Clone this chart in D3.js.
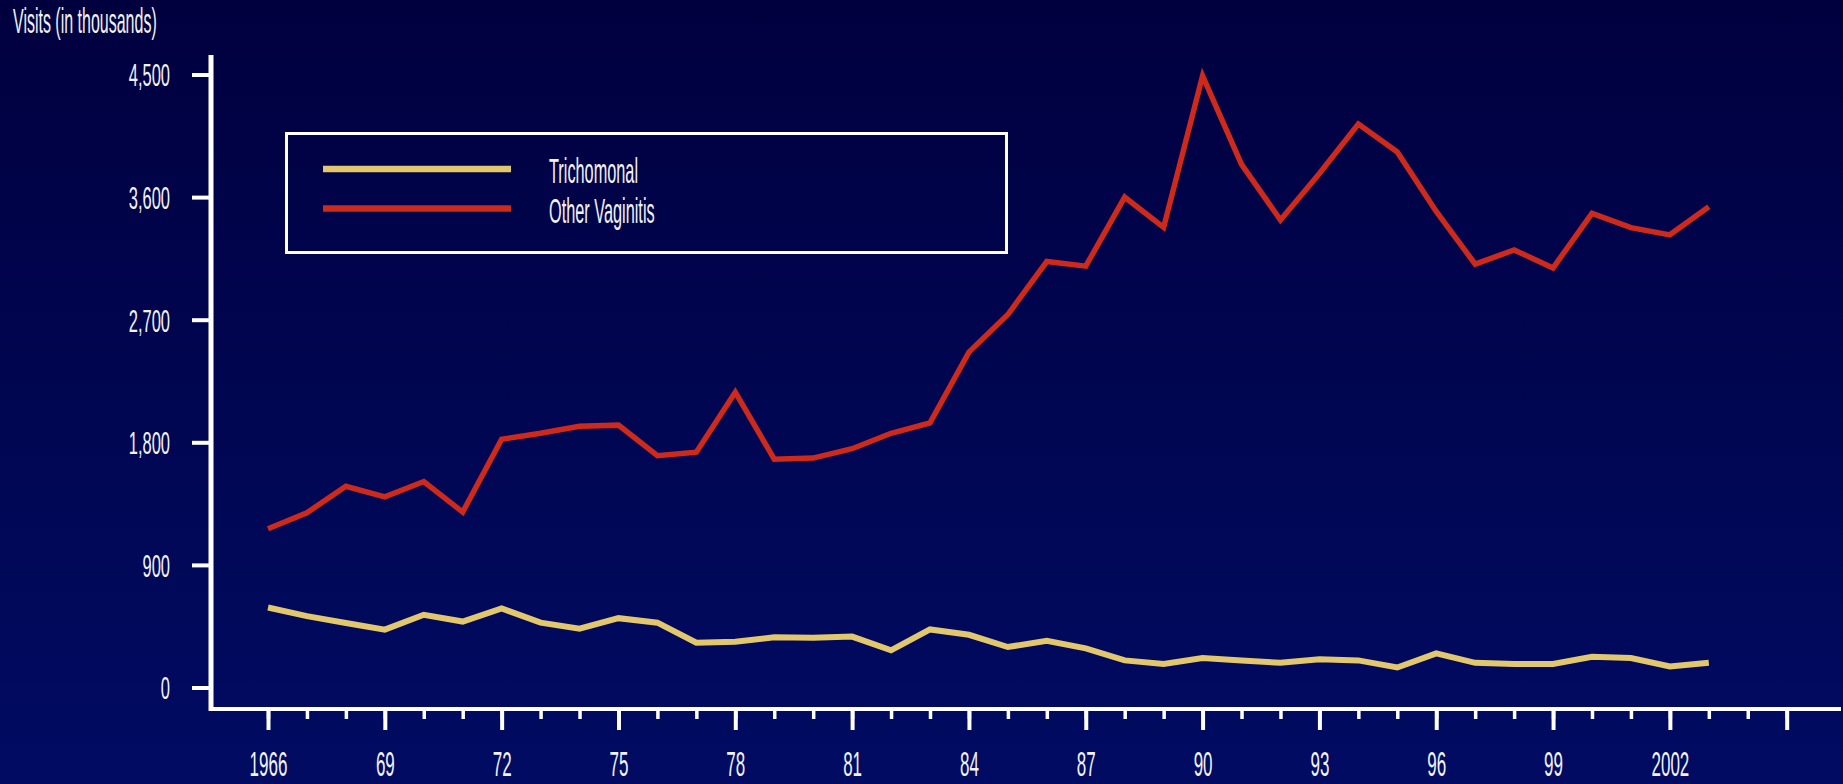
<!DOCTYPE html>
<html>
<head>
<meta charset="utf-8">
<script src="https://cdn.jsdelivr.net/npm/d3@7/dist/d3.min.js"></script>
<style>
  html, body { margin: 0; padding: 0; overflow: hidden; background: #000046; }
  svg { display: block; }
  text { font-family: "Liberation Sans", Arial, sans-serif; fill: #f2f2f2; }
</style>
</head>
<body>
<div id="grafico"></div>
<script>
// dados (visitas, em milhares)
const anos = d3.range(1966, 2004);
const trichomonal = [587, 524, 473, 425, 534, 484, 580, 476, 432, 509, 476, 329, 336, 368, 365, 374, 273, 426, 387, 297,
  343, 287, 199, 173, 216, 199, 181, 207, 199, 147, 250, 181, 173, 173, 225, 216, 155, 181];
const outrasVaginites = [1165, 1283, 1477, 1399, 1512, 1288, 1822, 1866, 1917, 1926, 1702, 1727, 2168, 1676, 1684, 1753,
  1866, 1943, 2462, 2738, 3127, 3093, 3599, 3378, 4490, 3840, 3432, 3774, 4137, 3931, 3495, 3108, 3212, 3080, 3481,
  3376, 3323, 3529];

const series = ["Trichomonal", "Other Vaginitis"];
const cores = ["#e3c76c", "#cd2a1c"];

const ticksY = [0, 900, 1800, 2700, 3600, 4500];
const todosAnos = d3.range(1966, 2006);
const anosPrincipais = d3.range(1966, 2006, 3);
const rotulosX = ["1966", "69", "72", "75", "78", "81", "84", "87", "90", "93", "96", "99", "2002", ""];
const tituloY = "Visits (in thousands)";

// Configurações do gráfico
const width = 1843, height = 784;
const eixoX = 211, eixoY = 709;

const svg = d3.select("#grafico").append("svg")
  .attr("width", width)
  .attr("height", height);

// fundo em degradê
const grad = svg.append("defs").append("linearGradient")
  .attr("id", "fundo").attr("x1", 0).attr("y1", 0).attr("x2", 0).attr("y2", 1);
grad.append("stop").attr("offset", "0%").attr("stop-color", "#00003f");
grad.append("stop").attr("offset", "100%").attr("stop-color", "#000b62");
svg.append("rect").attr("width", width).attr("height", height).attr("fill", "url(#fundo)");

// Escalas
const x = d3.scaleLinear().domain([1966, 2005]).range([268, 1786.7]);
const y = d3.scaleLinear().domain([0, 4500]).range([687.5, 74.5]);

// título do eixo y
svg.append("text")
  .attr("transform", "translate(13,33) scale(1,2.25)")
  .style("font-size", "16px")
  .text(tituloY);

// eixo y
svg.append("g")
  .attr("transform", `translate(${eixoX},0)`)
  .call(d3.axisLeft(y).tickValues(ticksY).tickFormat(d3.format(",")).tickSize(19).tickPadding(22))
  .call(g => g.select(".domain").remove())
  .call(g => g.selectAll(".tick line").attr("stroke", "#fff").attr("stroke-width", 4))
  .call(g => g.selectAll(".tick text")
    .attr("dy", "0.36em")
    .attr("transform", "scale(1,1.9)")
    .style("font-size", "16.5px"));

svg.append("line")
  .attr("x1", eixoX).attr("x2", eixoX)
  .attr("y1", 55).attr("y2", eixoY + 2)
  .attr("stroke", "#fff").attr("stroke-width", 5);

// eixo x: marcas menores e maiores
svg.append("g")
  .attr("transform", `translate(0,${eixoY})`)
  .call(d3.axisBottom(x).tickValues(todosAnos).tickSize(10).tickFormat(""))
  .call(g => g.select(".domain").remove())
  .call(g => g.selectAll(".tick line").attr("stroke", "#fff").attr("stroke-width", 3.5));

const kx = 2.1;
svg.append("g")
  .attr("transform", `translate(0,${eixoY})`)
  .call(d3.axisBottom(x).tickValues(anosPrincipais).tickSize(21).tickFormat((d, i) => rotulosX[i]))
  .call(g => g.select(".domain").remove())
  .call(g => g.selectAll(".tick line").attr("stroke", "#fff").attr("stroke-width", 4))
  .call(g => g.selectAll(".tick text")
    .attr("y", 67 / kx)
    .attr("dy", 0)
    .attr("transform", `scale(1,${kx})`)
    .style("font-size", "17px"));

svg.append("line")
  .attr("x1", eixoX - 2).attr("x2", 1841)
  .attr("y1", eixoY).attr("y2", eixoY)
  .attr("stroke", "#fff").attr("stroke-width", 4);

// Linhas
const linha = d3.line()
  .x((d, i) => x(anos[i]))
  .y(d => y(d));

[trichomonal, outrasVaginites].forEach((valores, i) => {
  svg.append("path")
    .datum(valores)
    .attr("d", linha)
    .attr("fill", "none")
    .attr("stroke", cores[i])
    .attr("stroke-width", i === 0 ? 6 : 5.5)
    .attr("stroke-linejoin", "miter");
});

// Legenda
const legenda = svg.append("g");
legenda.append("rect")
  .attr("x", 286.5).attr("y", 133.5)
  .attr("width", 720).attr("height", 119)
  .attr("fill", "none").attr("stroke", "#fff").attr("stroke-width", 3);

series.forEach((nome, i) => {
  const ly = 169 + i * 39.5;
  legenda.append("line")
    .attr("x1", 323).attr("x2", 511)
    .attr("y1", ly).attr("y2", ly)
    .attr("stroke", cores[i]).attr("stroke-width", 6.5);
  legenda.append("text")
    .attr("transform", `translate(549,${ly + 14}) scale(1,2.2)`)
    .style("font-size", "16.3px")
    .text(nome);
});
</script>
</body>
</html>
